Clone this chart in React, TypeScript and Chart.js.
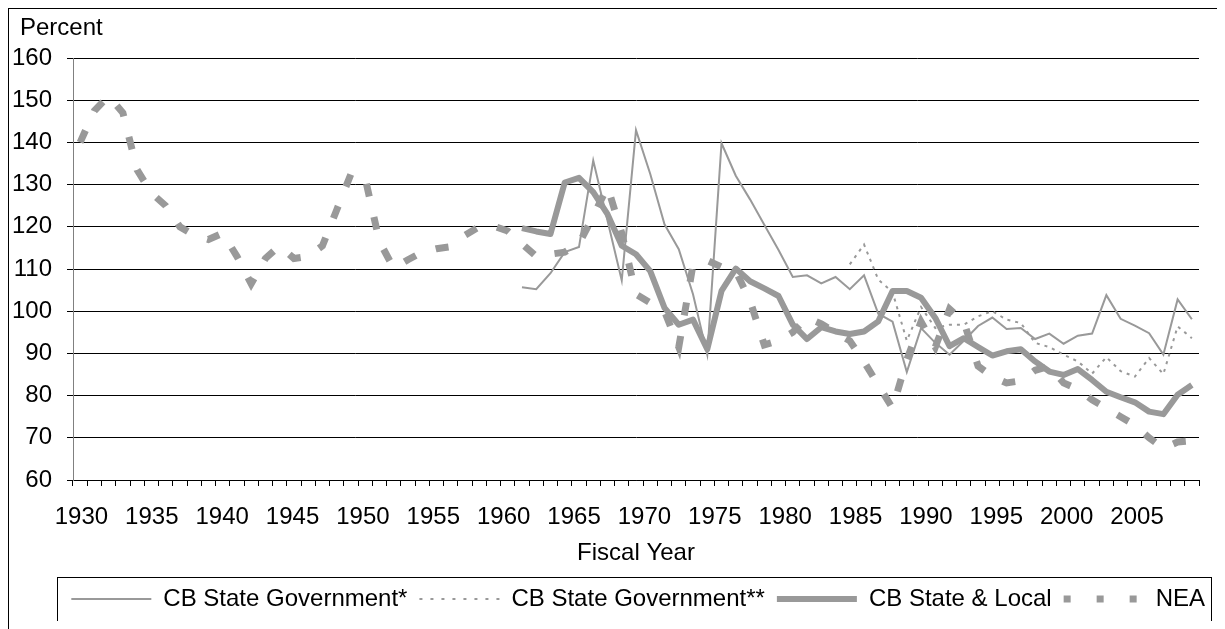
import React, { useEffect, useRef } from 'react';
import { Chart, registerables } from 'chart.js';

Chart.register(...registerables);

// ---- categories ----
const years = [
  1930, 1931, 1932, 1933, 1934, 1935, 1936, 1937, 1938, 1939,
  1940, 1941, 1942, 1943, 1944, 1945, 1946, 1947, 1948, 1949,
  1950, 1951, 1952, 1953, 1954, 1955, 1956, 1957, 1958, 1959,
  1960, 1961, 1962, 1963, 1964, 1965, 1966, 1967, 1968, 1969,
  1970, 1971, 1972, 1973, 1974, 1975, 1976, 1977, 1978, 1979,
  1980, 1981, 1982, 1983, 1984, 1985, 1986, 1987, 1988, 1989,
  1990, 1991, 1992, 1993, 1994, 1995, 1996, 1997, 1998, 1999,
  2000, 2001, 2002, 2003, 2004, 2005, 2006, 2007, 2008,
];
const tickYears = [1930, 1935, 1940, 1945, 1950, 1955, 1960, 1965, 1970, 1975, 1980, 1985, 1990, 1995, 2000, 2005];

// ---- series ----
const seriesNames = ['CB State Government*', 'CB State Government**', 'CB State & Local', 'NEA'];

const cbStateGovStart = 1961;
const cbStateGov = [
  105.7, 105.2, 109, 114, 115.2, 135.7, 121.5, 107.3, 142.9, 132.5,
  120.6, 114.7, 104, 89.7, 139.8, 132.1, 126.5, 120.5, 114.5, 108.1,
  108.5, 106.6, 108.1, 105.2, 108.5, 99.4, 97.5, 85.6, 96, 92.5,
  89.7, 93, 96.5, 98.5, 95.8, 96, 93.4, 94.7, 92.3, 94.2,
  94.7, 103.8, 98.2, 96.6, 94.8, 89.7, 102.8, 98.1,
];

const cbStateGov2Start = 1984;
const cbStateGov2 = [
  111.1, 115.8, 107.5, 104.5, 93, 101, 96, 96.8, 96.8, 98.8,
  100, 98, 97.2, 92.5, 91.5, 89.7, 88.1, 85.2, 89.1, 85.8,
  84.5, 88.9, 85.1, 96.4, 93.6,
];

const cbStateLocalStart = 1961;
const cbStateLocal = [
  119.7, 118.9, 118.3, 130.5, 131.6, 128.2, 123, 115.5, 113.5, 109.5,
  100.8, 96.8, 98, 91, 104.8, 110.1, 107.1, 105.4, 103.6, 96.8,
  93.4, 96.2, 95.2, 94.6, 95.2, 97.6, 104.8, 104.8, 103.2, 98.4,
  91.7, 93.6, 91.5, 89.5, 90.5, 91, 88.1, 85.7, 84.9, 86.3,
  83.7, 80.9, 79.6, 78.4, 76.2, 75.6, 80.2, 82.5,
];

const neaStart = 1930;
const nea = [
  140, 147.5, 151, 147, 133.5, 128, 125, 120, 118, 117,
  118.5, 113, 106.5, 112.5, 115.5, 112.5, 113, 115.5, 124, 132.5,
  131.5, 116.5, 110.2, 112.2, 114, 114.8, 115.3, 118, 120, 120.2,
  119, 116, 113, 113.5, 114, 116, 122.5, 129.5, 118.5, 104,
  102, 100, 91.5, 111, 112, 110.5, 109.5, 102.5, 92, 93,
  95, 98.5, 97, 95, 93, 88, 82.5, 77, 88.5, 97.5,
  91.5, 100.5, 97.5, 87, 84.5, 83, 83.5, 86, 87, 83,
  81.5, 79, 77, 75, 73, 70, 67.5, 69, 69.3,
];

const yMin = 60;
const yMax = 160;
const yStep = 10;

const LINE = '#999999';
const FONT = "'Liberation Sans', Arial, sans-serif";

function align(start: number, arr: number[]) {
  return years.map((y) => (y >= start && y - start < arr.length ? arr[y - start] : null));
}

const legendDashes: (number[] | undefined)[] = [undefined, [3, 8], undefined, [7, 26]];

const legendBoxPlugin = {
  id: 'legendBox',
  afterDraw(chart: any) {
    const lg = chart.legend;
    if (!lg || !lg.legendHitBoxes || !lg.legendHitBoxes.length) return;
    const hb = lg.legendHitBoxes;
    const first = hb[0];
    const last = hb[hb.length - 1];
    const x0 = Math.round(first.left - 14);
    const x1 = Math.round(last.left + last.width + 6);
    const y0 = Math.round(first.top - 10);
    const y1 = Math.round(first.top + first.height + 11);
    const ctx = chart.ctx;
    ctx.save();
    ctx.strokeStyle = '#000';
    ctx.lineWidth = 1;
    ctx.setLineDash([]);
    ctx.strokeRect(x0 + 0.5, y0 + 0.5, x1 - x0, y1 - y0);
    ctx.restore();
  },
};

const unitLabelPlugin = {
  id: 'unitLabel',
  afterDraw(chart: any) {
    const ctx = chart.ctx;
    ctx.save();
    ctx.font = `24px ${FONT}`;
    ctx.fillStyle = '#000';
    ctx.textAlign = 'left';
    ctx.textBaseline = 'middle';
    ctx.fillText('Percent', chart.chartArea.left - 53, 19.5);
    ctx.restore();
  },
};

export default function App() {
  const ref = useRef<HTMLCanvasElement | null>(null);

  useEffect(() => {
    document.documentElement.style.overflow = 'hidden';
    const canvas = ref.current;
    if (!canvas) return;
    Chart.defaults.font.family = FONT;
    Chart.defaults.color = '#000';

    const chart = new Chart(canvas, {
      type: 'line',
      data: {
        labels: years.map(String),
        datasets: [
          {
            label: seriesNames[0],
            data: align(cbStateGovStart, cbStateGov),
            borderColor: LINE,
            backgroundColor: LINE,
            borderWidth: 2,
            pointRadius: 0,
            tension: 0,
            xAxisID: 'x',
            yAxisID: 'y',
          },
          {
            label: seriesNames[1],
            data: align(cbStateGov2Start, cbStateGov2),
            borderColor: LINE,
            backgroundColor: LINE,
            borderWidth: 2,
            borderDash: [3, 5],
            pointRadius: 0,
            tension: 0,
            xAxisID: 'x',
            yAxisID: 'y',
          },
          {
            label: seriesNames[2],
            data: align(cbStateLocalStart, cbStateLocal),
            borderColor: LINE,
            backgroundColor: LINE,
            borderWidth: 6,
            borderJoinStyle: 'round',
            pointRadius: 0,
            tension: 0,
            xAxisID: 'x',
            yAxisID: 'y',
          },
          {
            label: seriesNames[3],
            data: align(neaStart, nea),
            borderColor: LINE,
            backgroundColor: LINE,
            borderWidth: 7,
            borderDash: [13, 21],
            borderCapStyle: 'butt',
            pointRadius: 0,
            tension: 0,
            xAxisID: 'x',
            yAxisID: 'y',
          },
        ],
      },
      options: {
        responsive: false,
        animation: false,
        layout: { padding: { left: 2, right: 0, top: 49, bottom: 0 } },
        plugins: {
          tooltip: { enabled: false },
          title: { display: false },
          legend: {
            display: true,
            position: 'bottom',
            align: 'end',
            labels: {
              usePointStyle: true,
              pointStyle: 'line',
              pointStyleWidth: 80,
              padding: 12,
              color: '#000',
              font: { size: 24, family: FONT },
              generateLabels: (ch: any) =>
                ch.data.datasets.map((ds: any, i: number) => ({
                  text: ds.label,
                  fillStyle: ds.borderColor,
                  strokeStyle: ds.borderColor,
                  lineWidth: ds.borderWidth,
                  lineDash: legendDashes[i] || [],
                  lineCap: 'butt',
                  pointStyle: 'line',
                  fontColor: '#000',
                  hidden: false,
                  datasetIndex: i,
                })),
            },
          },
        },
        scales: {
          x: {
            type: 'category',
            position: 'bottom',
            weight: 0,
            offset: true,
            grid: {
              offset: true,
              drawOnChartArea: false,
              drawTicks: true,
              tickLength: 6,
              color: '#000',
            },
            ticks: { display: false },
            border: { display: true, color: '#000', width: 1 },
          },
          x2: {
            type: 'linear',
            position: 'bottom',
            weight: 1,
            min: 1929.4,
            max: 2009.4,
            afterBuildTicks: (s: any) => {
              s.ticks = tickYears.map((v) => ({ value: v }));
            },
            afterFit: (s: any) => {
              s.height = 89;
            },
            grid: { display: false, drawTicks: false },
            border: { display: false },
            ticks: {
              color: '#000',
              font: { size: 24, family: FONT },
              padding: 16.5,
              autoSkip: false,
              maxRotation: 0,
              callback: (v: any) => String(v),
            },
            title: {
              display: true,
              text: 'Fiscal Year',
              color: '#000',
              font: { size: 24, family: FONT },
              padding: { top: 0, bottom: 7 },
            },
          },
          y: {
            type: 'linear',
            position: 'left',
            min: yMin,
            max: yMax,
            ticks: {
              stepSize: yStep,
              color: '#000',
              font: { size: 24, family: FONT },
              padding: 15,
            },
            grid: { color: '#000', lineWidth: 1, tickLength: 6, drawTicks: true },
            border: { display: true, color: '#808080', width: 1 },
            afterFit: (s: any) => {
              s.width = 62;
            },
          },
          yR: {
            type: 'linear',
            position: 'right',
            display: true,
            grid: { display: false, drawTicks: false },
            border: { display: false },
            ticks: { display: false },
            afterFit: (s: any) => {
              s.width = 18;
            },
          },
        },
      },
      plugins: [legendBoxPlugin, unitLabelPlugin],
    } as any);

    return () => chart.destroy();
  }, []);

  return (
    <div
      style={{
        width: 1208,
        height: 640,
        border: '1px solid #000',
        borderBottom: 'none',
      }}
    >
      <canvas ref={ref} width={1208} height={612} style={{ display: 'block' }} />
    </div>
  );
}
